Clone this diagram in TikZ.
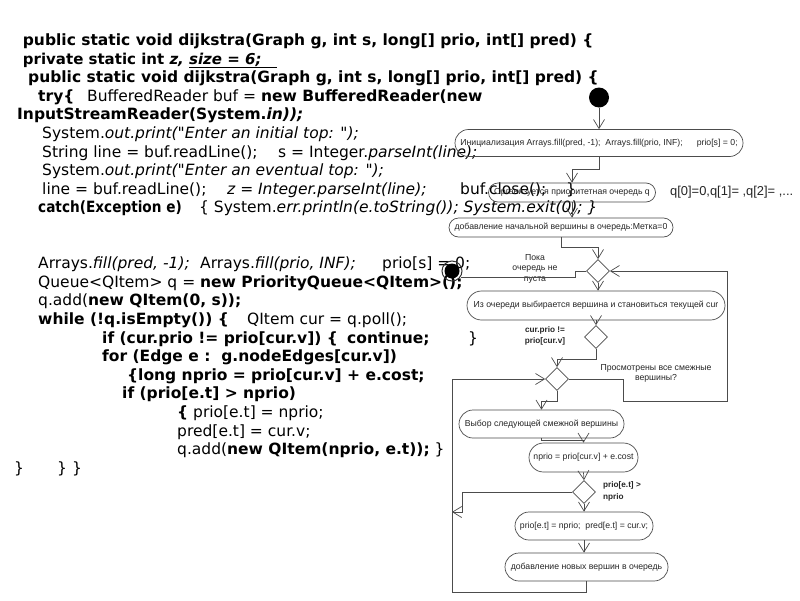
\documentclass[tikz,border=0pt]{standalone}
\usepackage{graphicx}
\usepackage{fontspec}
\setmainfont{DejaVu Sans}[Ligatures=TeXOff]
\newfontfamily\flowfont{Liberation Sans}
\usetikzlibrary{arrows.meta,shapes.geometric,shapes.misc}
\begin{document}
\begin{tikzpicture}[x=1pt,y=-1pt,
 code/.style={anchor=base west,inner sep=0pt,font=\fontsize{15.5}{18.6}\selectfont},
 csize/.style={font=\fontsize{#1}{18.6}\selectfont},
 fbox/.style={draw=black!70,line width=0.7pt,rounded rectangle,inner xsep=2pt,inner ysep=0pt,font=\flowfont\fontsize{8.7}{10}\selectfont,text=black!85},
 dia/.style={draw=black!70,line width=0.7pt,diamond,minimum width=23pt,minimum height=23pt,inner sep=0pt},
 conn/.style={draw=black!70,line width=0.7pt},
 arr/.style={conn,-{Straight Barb[length=9pt,width=11pt]}},
 lbl/.style={font=\flowfont\fontsize{8.7}{10.5}\selectfont,text=black!85,align=center,inner sep=0pt},
 blbl/.style={font=\flowfont\bfseries\fontsize{8.2}{11.5}\selectfont,text=black!85,inner sep=0pt}
]
\useasboundingbox (0,0) rectangle (800,600);
\fill[white] (0,0) rectangle (800,600);
% ---------------- code ----------------
\node[code] (c0) at (22.7,45.5) {\bfseries public static void dijkstra(Graph g, int s, long[] prio, int[] pred) \{};
\node[code,csize=15] (c1) at (22.7,64.1) {\bfseries private static int \textit{z, \underline{size = 6;\hspace{15pt}}}};
\node[code] (c2) at (28,82.7) {\bfseries public static void dijkstra(Graph g, int s, long[] prio, int[] pred) \{};
\node[code] (c3a) at (38,101.3) {\bfseries try\{};
\node[code] (c3b) at (87,101.3) {BufferedReader buf = \textbf{new BufferedReader(new}};
\node[code] (c4) at (17,119.9) {\bfseries InputStreamReader(System.\textit{in));}};
\node[code] (c5) at (42,138.5) {System.\textit{out.print("Enter an initial top: ");}};
\node[code] (c6a) at (42,157.1) {String line = buf.readLine();};
\node[code] (c6b) at (278,157.1) {s = Integer.\textit{parseInt(line);}};
\node[code] (c7) at (42,175.7) {System.\textit{out.print("Enter an eventual top: ");}};
\node[code] (c8a) at (42,194.3) {line = buf.readLine();};
\node[code] (c8b) at (227,194.3) {\textit{z = Integer.parseInt(line);}};
\node[code] (c8c) at (460,194.3) {buf.close();};
\node[code] (c8d) at (566,194.3) {\}};
\node[code] (c9a) at (38,212.9) {\scalebox{0.88}[1]{\bfseries catch(Exception e)}};
\node[code] (c9b) at (199,212.9) {\{ System.\textit{err.println(e.toString()); System.exit(0); \}}};
\node[code] (c12a) at (38,268.7) {Arrays.\textit{fill(pred, -1);}};
\node[code] (c12b) at (200,268.7) {Arrays.\textit{fill(prio, INF);}};
\node[code] (c12c) at (382,268.7) {prio[s] = 0;};
\node[code] (c13) at (38,287.3) {Queue<QItem> q = \textbf{new PriorityQueue<QItem>();}};
\node[code] (c14) at (38,305.9) {q.add(\textbf{new QItem(0, s));}};
\node[code] (c15a) at (38,324.5) {\bfseries while (!q.isEmpty()) \{};
\node[code] (c15b) at (247,324.5) {QItem cur = q.poll();};
\node[code] (c16a) at (102,343.1) {\bfseries if (cur.prio != prio[cur.v]) \{};
\node[code] (c16b) at (347,343.1) {\bfseries continue;};
\node[code] (c16c) at (468,343.1) {\}};
\node[code] (c17) at (102,361.7) {\bfseries for (Edge e :\ \ g.nodeEdges[cur.v])};
\node[code] (c18) at (127,380.3) {\bfseries \{long nprio = prio[cur.v] + e.cost;};
\node[code] (c19) at (122,398.9) {\bfseries if (prio[e.t] > nprio)};
\node[code] (c20) at (177,417.5) {\textbf{\{} prio[e.t] = nprio;};
\node[code] (c21) at (177,436.1) {pred[e.t] = cur.v;};
\node[code] (c22) at (177,454.7) {q.add(\textbf{new QItem(nprio, e.t));} \}};
\node[code] (c23a) at (14,473.3) {\}};
\node[code] (c23b) at (57,473.3) {\}};
\node[code] (c23c) at (72,473.3) {\}};
% ---------------- flowchart ----------------
\node[circle,fill=black,minimum size=20pt,inner sep=0pt] (st) at (599,97.5) {};
\node[fbox,minimum width=292pt,minimum height=27pt] (b1) at (599,143) {Инициализация Arrays.fill(pred, -1);\ \ Arrays.fill(prio, INF);\hspace{14pt}prio[s] = 0;};
\node[fbox,minimum width=171pt,minimum height=19pt] (b2) at (572,192.5) {Организуется приоритетная очередь q};
\node[anchor=west,inner sep=0pt,font=\flowfont\fontsize{12.9}{14}\selectfont,text=black!85] (qt) at (670,192) {q[0]=0,q[1]= ,q[2]= ,...};
\node[fbox,minimum width=228pt,minimum height=19pt] (b3) at (561,227.5) {добавление начальной вершины в очередь:Метка=0};
\node[dia] (d1) at (598,271) {};
\node[lbl] (lp) at (535,268.5) {Пока\\очередь не\\пуста};
\node[circle,draw=black!80,line width=1pt,minimum size=20pt,inner sep=0pt] (endc) at (452,271) {};
\fill[black] (endc.center) circle (7.5pt);
\node[fbox,minimum width=262pt,minimum height=29pt] (b4) at (596,305.5) {Из очереди выбирается вершина и становиться текущей cur};
\node[dia] (d2) at (596,337) {};
\node[blbl,align=center] (lc) at (545,336) {cur.prio !=\\prio[cur.v]};
\node[dia] (d3) at (557,379) {};
\node[lbl] (lv) at (656,373.5) {Просмотрены все смежные\\вершины?};
\node[fbox,minimum width=169pt,minimum height=28pt] (b5) at (541.5,424) {Выбор следующей смежной вершины};
\node[fbox,minimum width=113pt,minimum height=29pt] (b6) at (583.5,457.5) {nprio = prio[cur.v] + e.cost};
\node[dia] (d4) at (584,492) {};
\node[blbl,align=left,anchor=west] (le) at (603,491.5) {prio[e.t] >\\nprio};
\node[fbox,minimum width=142pt,minimum height=28pt] (b7) at (584,526) {prio[e.t] = nprio;\ \ pred[e.t] = cur.v;};
\node[fbox,minimum width=167pt,minimum height=28pt] (b8) at (586.5,567) {добавление новых вершин в очередь};
\coordinate (lb) at (452,592);
\coordinate (jn) at (452,512);
\coordinate (rt) at (727,401);
% connectors
\draw[arr] (st) -- (b1.north);
\draw[arr] (b1.south) -- ++(0,12) -| (b2.north);
\draw[arr] (b2.south) -- (b2.south |- b3.north);
\draw[arr] (b3.south) -- ++(0,10) -| (d1.north);
\draw[arr] (d1.south) -- (d1.south |- b4.north);
\draw[conn] (d1.west) -- ++(-11,0) |- (endc.-35);
\draw[arr] (b4.south) -- (d2.north);
\draw[arr] (d2.south) -- ++(0,10) -| (d3.north);
\draw[arr] (d3.south) -- ++(0,10) -| (b5.north);
\draw[arr] (d3.east) -| (623,401) -- (rt) |- (d1.east);
\draw[arr] (b5.south) -- ++(0,2) -| (b6.north);
\draw[arr] (b6.south) -- (d4.north);
\draw[arr] (d4.south) -- (b7.north);
\draw[arr] (d4.west) -| (462,512) -- (jn);
\draw[arr] (b7.south) -- (b7.south |- b8.north);
\draw[arr] (b8.south) |- (lb) |- (d3.west);
\end{tikzpicture}
\end{document}
